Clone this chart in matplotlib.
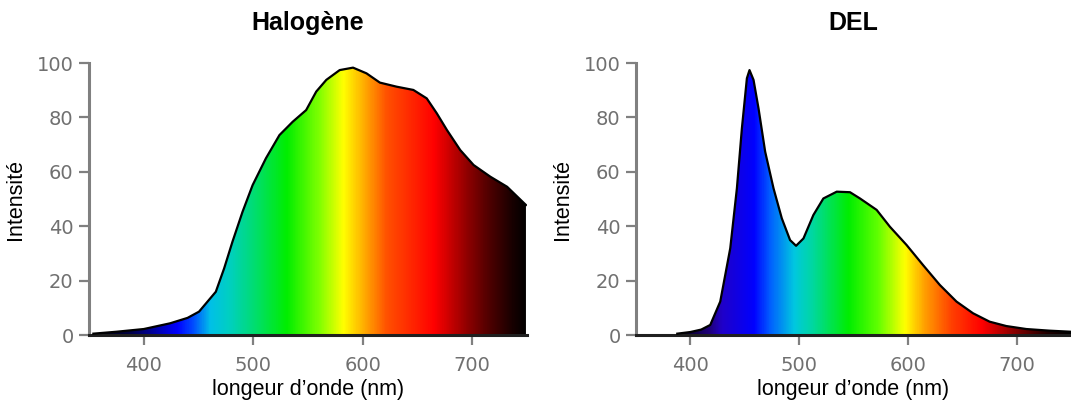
import matplotlib
matplotlib.use("Agg")
import matplotlib.pyplot as plt
import numpy as np
from matplotlib.colors import LinearSegmentedColormap
from matplotlib.patches import Polygon

# Données
halogene_nm = [354, 375, 400, 424, 440, 450.5, 465.8, 473.4, 481, 490.2, 499.4, 511.6,
               523.9, 536, 548.3, 557.5, 566.7, 578.9, 591.1, 603.4, 615.6, 630.9,
               646.2, 658.4, 667.6, 676.8, 689, 701.2, 716.5, 731.8, 749]
halogene_int = [0.5, 1.2, 2.2, 4.3, 6.3, 8.6, 15.9, 24.5, 34.3, 45.3, 55.1, 65,
                73.5, 78.4, 82.7, 89.5, 93.8, 97.4, 98.3, 96.2, 92.8, 91.3,
                90.1, 87, 81.5, 75.4, 68, 62.5, 58.2, 54.5, 47.8]

del_nm = [388, 400, 410, 418.3, 427.5, 436.7, 442.8, 447.4, 452, 454.4, 458.1, 462.7,
          468.8, 476.5, 484.1, 491.7, 497.2, 504, 513.1, 522.3, 534.6, 546.8, 556,
          571.3, 583.5, 598.8, 614, 629.4, 644.7, 659.9, 675.2, 690.5, 708.9, 730.3, 750]
del_int = [0.5, 1.1, 2.0, 3.7, 12.3, 31.9, 53.9, 76, 94.4, 97.4, 93.8, 83.3,
           67.4, 53.9, 42.9, 34.9, 32.8, 35.5, 44.1, 50.2, 52.7, 52.5, 50.2,
           46, 39.8, 33.1, 25.7, 18.4, 12.3, 8, 4.9, 3.3, 2.2, 1.6, 1.2]

titres = ["Halogène", "DEL"]
xticks = [400, 500, 600, 700]
yticks = [0, 20, 40, 60, 80, 100]

# couleurs du spectre (longueur d'onde, couleur) pour chaque panneau
spectre_gauche = [(350, '#000000'), (385, '#000040'), (405, '#000090'), (430, '#0000ff'),
                  (445, '#0050ff'), (460, '#00c0e8'), (478, '#00d0c0'), (505, '#00e060'),
                  (530, '#00ee00'), (560, '#80ff00'), (582, '#ffff00'), (600, '#ffb000'),
                  (622, '#ff5000'), (665, '#ff0000'), (695, '#900000'), (715, '#500000'),
                  (738, '#150000'), (750, '#000000')]
spectre_droite = [(350, '#000000'), (385, '#000000'), (418, '#200080'), (428, '#2000c8'),
                  (458, '#0000ff'), (473, '#0060ff'), (495, '#00c8e0'), (512, '#00d8a0'),
                  (545, '#00ee00'), (572, '#60ff00'), (597, '#ffff00'), (615, '#ffa000'),
                  (640, '#ff4000'), (668, '#ff0000'), (700, '#800000'), (728, '#200000'),
                  (750, '#000000')]

xmin, xmax = 350, 750

fig = plt.figure(figsize=(10.71, 4.05), dpi=100)
ax1 = fig.add_axes([0.0831, 0.1728, 0.4090, 0.6716])
ax2 = fig.add_axes([0.5938, 0.1728, 0.4062, 0.6716])

for ax, x, y, titre, stops in [(ax1, halogene_nm, halogene_int, titres[0], spectre_gauche),
                               (ax2, del_nm, del_int, titres[1], spectre_droite)]:
    cmap = LinearSegmentedColormap.from_list(
        "spectre", [((w - xmin) / (xmax - xmin), c) for w, c in stops])
    wl = np.linspace(xmin, xmax, 800)
    img = cmap((wl - xmin) / (xmax - xmin))[None, :, :]
    im = ax.imshow(img, extent=[xmin, xmax, 0, 100], aspect='auto', zorder=1)
    verts = [(x[0], 0)] + list(zip(x, y)) + [(x[-1], 0)]
    poly = Polygon(verts, closed=True, facecolor='none', edgecolor='none')
    ax.add_patch(poly)
    im.set_clip_path(poly)
    ax.plot(x, y, color='black', lw=1.6, zorder=3, solid_joinstyle='round')

    ax.set_xlim(xmin, xmax)
    ax.set_ylim(0, 100)
    ax.set_xticks(xticks)
    ax.set_yticks(yticks)
    ax.spines['top'].set_visible(False)
    ax.spines['right'].set_visible(False)
    ax.spines['left'].set_color('#808080')
    ax.spines['left'].set_linewidth(2.2)
    ax.spines['bottom'].set_color('#202020')
    ax.spines['bottom'].set_linewidth(2.2)
    ax.tick_params(direction='out', length=7, width=1.6, color='#808080',
                   labelcolor='#707070', labelsize=14, pad=4)
    ax.tick_params(axis='x', pad=8)
    ax.set_xlabel("longeur d’onde (nm)", fontsize=15.5, family='Liberation Sans', labelpad=3)
    ax.set_ylabel("Intensité", fontsize=15.5, family='Liberation Sans', labelpad=8)
    ax.set_title(titre, fontsize=18, fontweight='bold',
                 family=['Liberation Sans Narrow', 'Liberation Sans'], pad=24)

fig.savefig("out.png", dpi=100, facecolor='white')
